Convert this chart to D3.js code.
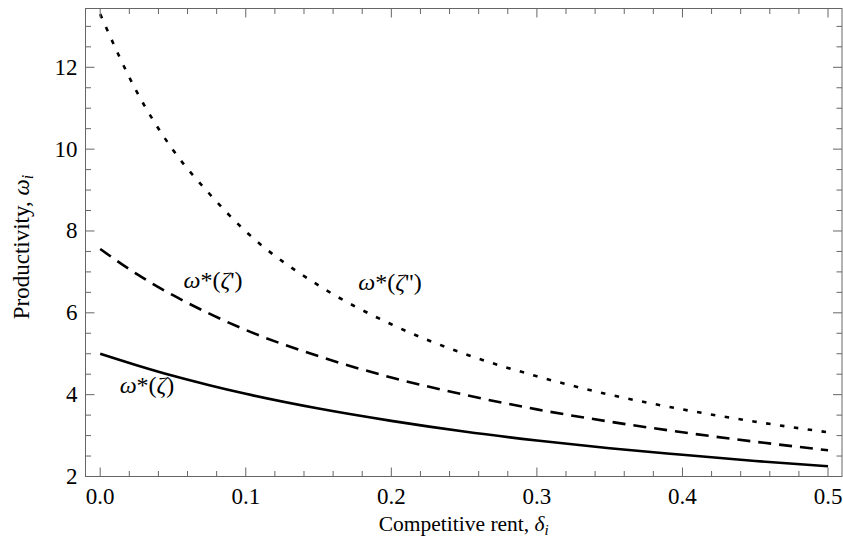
<!DOCTYPE html>
<html>
<head>
<meta charset="utf-8">
<script src="https://cdn.jsdelivr.net/npm/d3@7"></script>
<style>
  html, body { margin: 0; padding: 0; background: #fff; }
  svg { display: block; }
  text { font-family: "Liberation Serif", "DejaVu Serif", serif; fill: #000; }
</style>
</head>
<body>
<svg id="chart" width="843" height="547"></svg>
<script>
// ---- data ----
const delta = [0, 0.025, 0.05, 0.075, 0.1, 0.15, 0.2, 0.25, 0.3, 0.35, 0.4, 0.45, 0.5];
const omegaZeta   = [5.00, 4.72, 4.46, 4.23, 4.02, 3.66, 3.36, 3.10, 2.88, 2.69, 2.53, 2.38, 2.25];
const omegaZeta1  = [7.56, 6.95, 6.43, 5.98, 5.58, 4.94, 4.42, 4.00, 3.64, 3.34, 3.08, 2.85, 2.64];
const omegaZeta2  = [13.30, 11.41, 9.98, 8.91, 7.99, 6.67, 5.72, 5.00, 4.45, 4.00, 3.64, 3.34, 3.08];
const xMajorTicks = [0, 0.1, 0.2, 0.3, 0.4, 0.5];
const xTickLabels = ["0.0", "0.1", "0.2", "0.3", "0.4", "0.5"];
const yMajorTicks = [2, 4, 6, 8, 10, 12];
const yTickLabels = ["2", "4", "6", "8", "10", "12"];
const xTitle = "Competitive rent, ";
const yTitle = "Productivity, ";

// ---- layout ----
const svg = d3.select("#chart");
const L = 85.5, R = 842, T = 8.5, B = 476.5;
const x = d3.scaleLinear().domain([-0.0101, 0.5096]).range([L, R]);
const y = d3.scaleLinear().domain([2, 13.437]).range([B, T]);

const frameColor = "#666";
const majorLen = 9, minorLen = 5.5;

const xMinor = d3.range(0, 0.5001, 0.02).filter(v => !xMajorTicks.some(m => Math.abs(m - v) < 1e-9));
const yMinor = d3.range(2, 13.4, 0.5).filter(v => !yMajorTicks.some(m => Math.abs(m - v) < 1e-9));

// curves
const series = [
  { vals: omegaZeta,  dash: null },
  { vals: omegaZeta1, dash: "13,8" },
  { vals: omegaZeta2, dash: "4.5,9.5" }
];
const line = d3.line().x(d => x(d[0])).y(d => y(d[1])).curve(d3.curveMonotoneX);
svg.append("clipPath").attr("id", "clip").append("rect")
  .attr("x", L).attr("y", T).attr("width", R - L).attr("height", B - T);
series.forEach(s => {
  svg.append("path")
    .attr("clip-path", "url(#clip)")
    .attr("d", line(delta.map((d, i) => [d, s.vals[i]])))
    .attr("fill", "none")
    .attr("stroke", "#000")
    .attr("stroke-width", 2.6)
    .attr("stroke-dasharray", s.dash);
});

// frame
svg.append("rect").attr("x", L).attr("y", T).attr("width", R - L).attr("height", B - T)
  .attr("fill", "none").attr("stroke", frameColor).attr("stroke-width", 1);

// ticks (all four sides, inward)
const tickG = svg.append("g").attr("stroke", frameColor).attr("stroke-width", 1);
function xTicks(vals, len) {
  vals.forEach(v => {
    tickG.append("line").attr("x1", x(v)).attr("x2", x(v)).attr("y1", B).attr("y2", B - len);
    tickG.append("line").attr("x1", x(v)).attr("x2", x(v)).attr("y1", T).attr("y2", T + len);
  });
}
function yTicks(vals, len) {
  vals.forEach(v => {
    tickG.append("line").attr("y1", y(v)).attr("y2", y(v)).attr("x1", L).attr("x2", L + len);
    tickG.append("line").attr("y1", y(v)).attr("y2", y(v)).attr("x1", R).attr("x2", R - len);
  });
}
xTicks(xMajorTicks, majorLen); xTicks(xMinor, minorLen);
yTicks(yMajorTicks, majorLen); yTicks(yMinor, minorLen);

// tick labels
svg.append("g").selectAll("text").data(xMajorTicks).join("text")
  .attr("x", d => x(d)).attr("y", B + 27)
  .attr("text-anchor", "middle").attr("font-size", 23)
  .text((d, i) => xTickLabels[i]);
svg.append("g").selectAll("text").data(yMajorTicks).join("text")
  .attr("x", L - 8).attr("y", d => y(d) + 7.5)
  .attr("text-anchor", "end").attr("font-size", 23)
  .text((d, i) => yTickLabels[i]);

// axis titles
const xt = svg.append("text").attr("x", (L + R) / 2 + 0).attr("y", 531)
  .attr("text-anchor", "middle").attr("font-size", 21.5);
xt.append("tspan").text(xTitle);
xt.append("tspan").attr("font-style", "italic").text("δ");
xt.append("tspan").attr("font-style", "italic").attr("font-size", 15).attr("dy", 4).text("i");

const yt = svg.append("text")
  .attr("transform", `translate(29,247) rotate(-90)`)
  .attr("text-anchor", "middle").attr("font-size", 23);
yt.append("tspan").text(yTitle);
yt.append("tspan").attr("font-style", "italic").text("ω");
yt.append("tspan").attr("font-style", "italic").attr("font-size", 16).attr("dy", 4).text("i");

// curve labels
function curveLabel(px, py, primes) {
  const t = svg.append("text").attr("x", px).attr("y", py).attr("font-size", 24).attr("text-anchor", "middle");
  t.append("tspan").attr("font-style", "italic").text("ω");
  t.append("tspan").text("*(");
  t.append("tspan").attr("font-style", "italic").text("ζ");
  if (primes) t.append("tspan").text(primes);
  t.append("tspan").text(")");
}
curveLabel(147, 393, "");
curveLabel(213, 288, "'");
curveLabel(390, 290, "''");
</script>
</body>
</html>
